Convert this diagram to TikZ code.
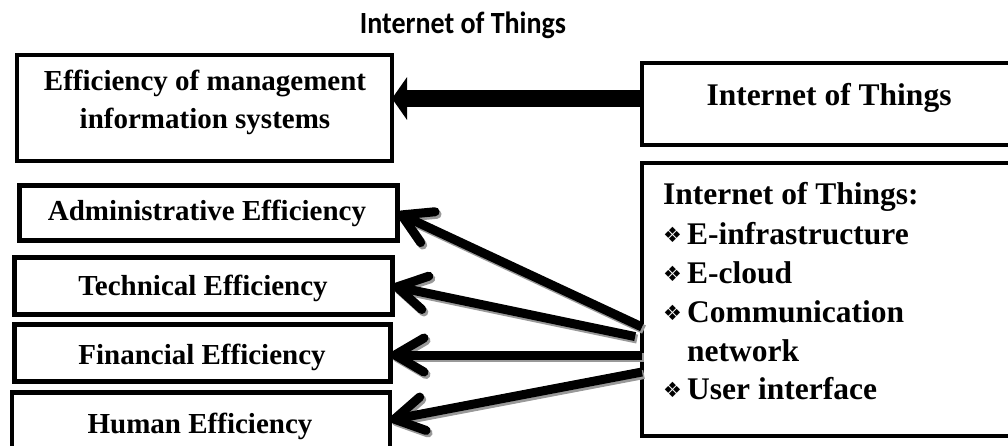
\documentclass[tikz,border=0pt]{standalone}
\usepackage{fontspec}
\setmainfont{Liberation Serif}
\newfontfamily\calibrifont{Carlito}
\newfontfamily\dejavufont{DejaVu Sans}
\usetikzlibrary{arrows.meta}
\begin{document}
\begin{tikzpicture}[x=1pt,y=-1pt,
  boxstyle/.style={draw, line width=4.6pt, inner sep=0pt, outer sep=0pt},
  lefttxt/.style={inner sep=0pt, anchor=base, font=\bfseries\fontsize{29}{38}\selectfont},
  righttxt/.style={inner sep=0pt, anchor=base west, font=\bfseries\fontsize{31.5}{38}\selectfont},
  bulletstyle/.style={inner sep=0pt, anchor=base west, font=\dejavufont\fontsize{21}{22}\selectfont},
  thinarrow/.style={line width=9pt, -{Straight Barb[length=29pt,width=34pt,round]}},
  shadowarrow/.style={thinarrow, draw=black!40, transform canvas={shift={(2pt,-2.5pt)}}}
]
\useasboundingbox (0,0) rectangle (1008,445);
\clip (0,0) rectangle (1008,445);
\fill[white] (0,0) rectangle (1008,445);

% title
\node[inner sep=0pt, anchor=base, font=\calibrifont\bfseries\fontsize{28}{30}\selectfont] (title) at (463,33) {\scalebox{1}[1.1]{Internet of Things}};

% boxes
\node[boxstyle, minimum width=375pt, minimum height=106pt] (mis) at (204.5,108) {};
\node[boxstyle, minimum width=400pt, minimum height=82pt] (iot) at (842,104) {};
\node[boxstyle, minimum width=400pt, minimum height=273pt] (iotlist) at (842,299.5) {};
\node[boxstyle, minimum width=378pt, minimum height=55pt] (admin) at (208.5,213) {};
\node[boxstyle, minimum width=378pt, minimum height=57pt] (tech) at (203.5,286) {};
\node[boxstyle, minimum width=376pt, minimum height=57pt] (fin) at (202.5,353) {};
\node[boxstyle, minimum width=378pt, minimum height=59pt] (hum) at (201,422) {};

% texts
\node[lefttxt] (misA) at (205,90) {Efficiency of management};
\node[lefttxt] (misB) at (205,128) {information systems};
\node[lefttxt, font=\bfseries\fontsize{31.5}{38}\selectfont] (iotT) at (829,105) {Internet of Things};
\node[lefttxt] (adminT) at (207,220) {Administrative Efficiency};
\node[lefttxt] (techT) at (203,295) {Technical Efficiency};
\node[lefttxt] (finT) at (202,364) {Financial Efficiency};
\node[lefttxt] (humT) at (200,433) {Human Efficiency};

\node[righttxt] (lt) at (663,204) {Internet of Things:};
\node[bulletstyle] (b1) at (663,242) {❖};
\node[righttxt] (l1) at (687,244) {E-infrastructure};
\node[bulletstyle] (b2) at (663,281) {❖};
\node[righttxt] (l2) at (687,283) {E-cloud};
\node[bulletstyle] (b3) at (663,320) {❖};
\node[righttxt] (l3) at (687,322) {Communication};
\node[righttxt] (l3b) at (687,361) {network};
\node[bulletstyle] (b4) at (663,397) {❖};
\node[righttxt] (l4) at (687,399) {User interface};

% big arrow
\draw[line width=17pt, -{Triangle[length=15pt,width=42pt]}] (iot.west |- 0,98.5) -- (mis.east |- 0,98.5);

% shadows
\draw[shadowarrow] (iotlist.west |- 0,327) -- (admin.east);
\draw[shadowarrow, shorten <=7pt] (iotlist.west |- 0,338) -- (tech.east);
\draw[shadowarrow] (iotlist.west |- 0,355) -- (fin.east |- 0,355);
\draw[shadowarrow] (iotlist.west |- 0,372) -- (hum.east |- 0,420);
% arrows
\draw[thinarrow] (iotlist.west |- 0,327) -- (admin.east);
\draw[thinarrow, shorten <=7pt] (iotlist.west |- 0,338) -- (tech.east);
\draw[thinarrow] (iotlist.west |- 0,355) -- (fin.east |- 0,355);
\draw[thinarrow] (iotlist.west |- 0,372) -- (hum.east |- 0,420);
\end{tikzpicture}
\end{document}
